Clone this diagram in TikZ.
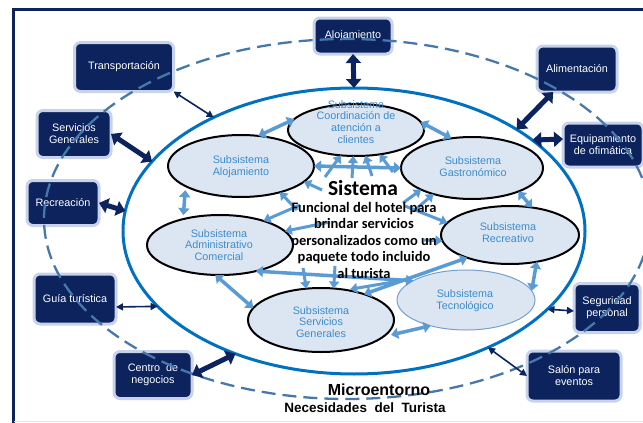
\documentclass[tikz,border=0pt]{standalone}
\usepackage{fontspec}
\setmainfont{Liberation Sans}
\newfontfamily\calib{Carlito}
\usetikzlibrary{arrows.meta,shapes.geometric}
\definecolor{navy}{RGB}{12,35,94}
\definecolor{glow}{RGB}{200,210,235}
\definecolor{dashc}{RGB}{70,120,170}
\definecolor{innerc}{RGB}{0,112,192}
\definecolor{subfill}{RGB}{220,230,242}
\definecolor{subtxt}{RGB}{60,140,205}
\definecolor{larrow}{RGB}{91,155,213}
\definecolor{tecb}{RGB}{120,160,205}
\begin{document}
\begin{tikzpicture}[x=1pt,y=-1pt,
  box/.style={draw=glow, line width=3pt, fill=navy, rounded corners=6pt, text=white,
    font=\fontsize{10.8}{12}\selectfont, align=center, inner sep=0pt, outer sep=0pt},
  sub/.style={ellipse, draw=black, line width=2pt, fill=subfill, inner sep=0pt, outer sep=0pt},
  subtext/.style={text=subtxt, font=\fontsize{10.8}{11.8}\selectfont, align=center, inner sep=0pt},
  la/.style={draw=larrow, line width=3.5pt, {Triangle[width=11pt,length=7pt]}-{Triangle[width=11pt,length=7pt]}},
  fa/.style={draw=larrow, line width=3pt, -{Triangle[width=10pt,length=7pt]}},
  dthick/.style={draw=navy, line width=5pt, {Triangle[width=15pt,length=9pt]}-{Triangle[width=15pt,length=9pt]}},
  dthin/.style={draw=navy, line width=1.6pt, {Triangle[width=7pt,length=7pt]}-{Triangle[width=7pt,length=7pt]}},
]
\useasboundingbox (0,0) rectangle (643,423);
\fill[white] (0,0) rectangle (643,423);
% frame
\draw[navy, line width=3pt] (13,423) -- (13,9) -- (643,9);
\draw[black!10, line width=1pt] (14,421) -- (643,421);

% outer boxes
\node[box, minimum width=78pt, minimum height=36pt] (aloj) at (353,36) {Alojamiento};
\node[box, minimum width=99pt, minimum height=49pt] (trans) at (124,67) {Transportación};
\node[box, minimum width=74pt, minimum height=47pt] (sgb) at (74,134) {Servicios\\Generales};
\node[box, minimum width=72pt, minimum height=45pt] (rcb) at (63,203) {Recreación};
\node[box, minimum width=82pt, minimum height=50pt] (guia) at (75,299) {Guía turística};
\node[box, minimum width=78pt, minimum height=47pt] (cen) at (153,375) {Centro\ \ de\\negocios};
\node[box, minimum width=80pt, minimum height=46pt] (alim) at (577,69) {Alimentación};
\node[box, minimum width=80pt, minimum height=44pt] (equ) at (603,145) {Equipamiento\\de ofimática};
\node[box, minimum width=66pt, minimum height=49pt] (seg) at (607,308) {Seguridad\\personal};
\node[box, minimum width=94pt, minimum height=50pt] (sal) at (574,376) {Salón para\\eventos};

% outer dashed ellipse and inner solid ellipse
\node[ellipse, draw=dashc, line width=2.3pt, dash pattern=on 14pt off 7pt,
  minimum width=606pt, minimum height=360pt, inner sep=0pt, outer sep=0pt] (outer) at (347,219) {};
\node[ellipse, draw=innerc, line width=3pt, minimum width=462pt, minimum height=286pt,
  inner sep=0pt, outer sep=0pt] (inner) at (354,231) {};

% subsystems
\node[sub, minimum width=136pt, minimum height=52pt] (coo) at (356,130) {};
\node[sub, minimum width=146pt, minimum height=62pt] (alo) at (241,166) {};
\node[sub, minimum width=142pt, minimum height=62pt] (gas) at (472,168) {};
\node[sub, minimum width=146pt, minimum height=60pt] (adm) at (220,245) {};
\node[sub, minimum width=138pt, minimum height=58pt] (rec) at (510,235) {};
\node[sub, minimum width=146pt, minimum height=64pt] (ser) at (321,320) {};
\node[sub, draw=tecb, line width=1pt, minimum width=138pt, minimum height=60pt] (tec) at (466,300) {};

\node[subtext] (cootx) at (356,122) {Subsistema\\Coordinación de\\atención a\\clientes};
\node[subtext] (alotx) at (241,167) {Subsistema\\Alojamiento};
\node[subtext] (gastx) at (473,167) {Subsistema\\Gastronómico};
\node[subtext] (admtx) at (219,245) {Subsistema\\Administrativo\\Comercial};
\node[subtext] (rectx) at (508,233) {Subsistema\\Recreativo};
\node[subtext] (sertx) at (321,322) {Subsistema\\Servicios\\Generales};
\node[subtext] (tectx) at (465,301) {Subsistema\\Tecnológico};

% light blue arrows between subsystems
\draw[la] (alo.60) -- (coo.170);
\draw[la] (coo.7) -- (gas.125);
\draw[la, shorten >=4pt, shorten <=4pt] (alo.200) -- (adm.145);
\draw[la] (gas.333) -- (rec.51);
\draw[la] (rec.315) -- (tec.8);
\draw[la, shorten >=8pt] (tec.216) -- (ser.345);
\draw[la] (adm.261) -- (ser.170);
\draw[la] (alo.east) -- (gas.west);
\draw[la] (adm.324) -- (tec.160);
\draw[la] (rec.208) -- (ser.31);

% fan of arrows from the system text
\coordinate (f1) at (325,177);
\coordinate (f2) at (352,178);
\coordinate (f3) at (372,176);
\coordinate (f4) at (393,172);
\coordinate (f5) at (322,190);
\coordinate (f6) at (297,210);
\coordinate (f7) at (300,205);
\coordinate (f8) at (330,222);
\coordinate (f9) at (403,203);
\coordinate (f10) at (415,210);
\coordinate (f11) at (405,206);
\coordinate (f12) at (424,240);
\coordinate (f13) at (303,268);
\coordinate (f14) at (335,266);
\coordinate (f15) at (405,280);
\draw[fa] (f1) -- (coo.239);
\draw[fa] (f2) -- (coo.264);
\draw[fa] (f3) -- (coo.290);
\draw[fa] (f4) -- (coo.314);
\draw[fa] (f5) -- (alo.346);
\draw[fa] (f6) -- (alo.326);
\draw[fa] (f7) -- (adm.29);
\draw[fa] (f8) -- (adm.12);
\draw[fa] (f9) -- (gas.203);
\draw[fa] (f10) -- (gas.214);
\draw[fa] (f11) -- (rec.169);
\draw[fa] (f12) -- (rec.185);
\draw[fa] (f13) -- (ser.115);
\draw[fa] (f14) -- (ser.68);
\draw[fa, shorten >=4pt] (f15) -- (ser.50);

% dark arrows to the environment
\draw[dthin] (trans.south east) -- (inner.141);
\draw[dthick] (sgb.east) -- (inner.161);
\draw[dthick] (rcb.east) -- (inner.175);
\draw[dthin] ([yshift=-8pt]guia.east) -- (inner.201);
\draw[dthick] (cen.east) -- (inner.226);
\draw[dthick] (aloj.south) -- (inner.90);
\draw[dthick] (alim.224) -- (inner.32);
\draw[dthick] ([yshift=6pt]equ.west) -- (inner.27);
\draw[dthin] ([yshift=-3pt]seg.west) -- (inner.338);
\draw[dthin] (sal.west) -- (inner.319);

% central text
\node[font=\calib\bfseries\fontsize{21.5}{24}\selectfont, inner sep=0pt] (sis) at (363,188) {Sistema};
\node[font=\calib\bfseries\fontsize{14.5}{16.5}\selectfont, align=center, inner sep=0pt] (fun) at (364,240)
  {Funcional del hotel para\\brindar servicios\\personalizados como un\\paquete todo incluido\\al turista};
\node[font=\bfseries\fontsize{16}{18}\selectfont, inner sep=0pt] (micro) at (379,390) {Microentorno};
\node[font=\bfseries\fontsize{13.5}{15}\selectfont, inner sep=0pt] (nec) at (365,408) {Necesidades\ \ del\ \ Turista};
\end{tikzpicture}
\end{document}
